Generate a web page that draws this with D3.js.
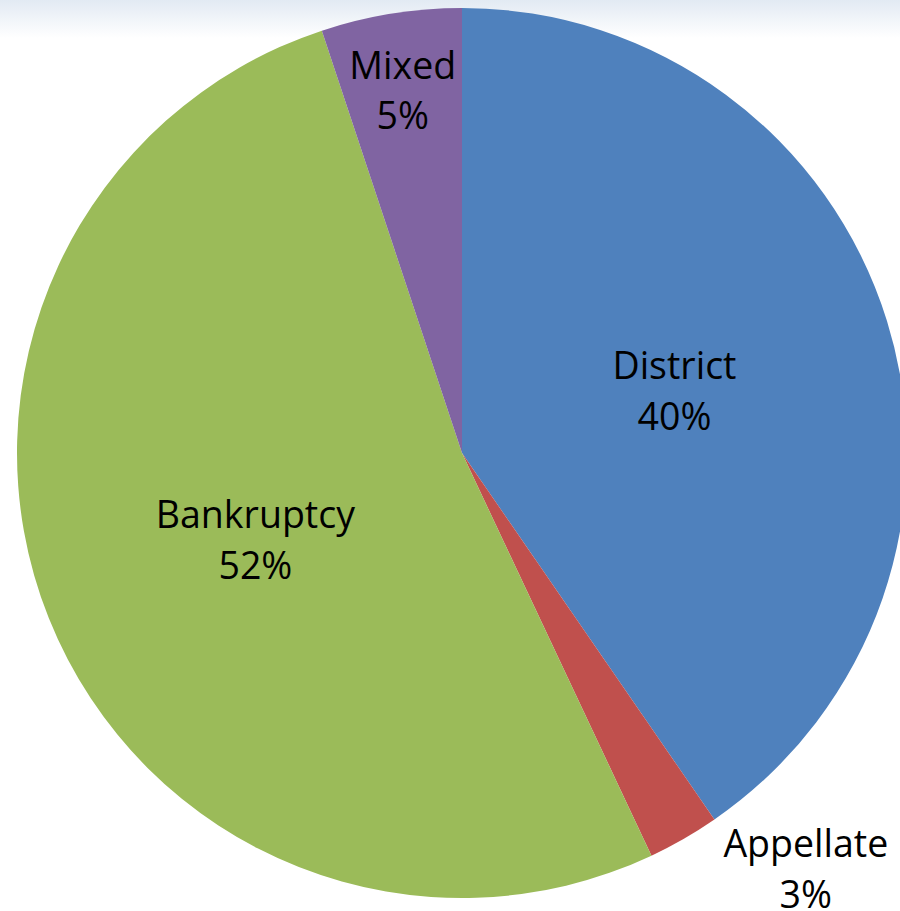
<!DOCTYPE html>
<html>
<head>
<meta charset="utf-8">
<script src="https://cdn.jsdelivr.net/npm/d3@7"></script>
<style>
  body { margin: 0; background: #fff; }
  svg { display: block; }
</style>
</head>
<body>
<div id="chart"></div>
<script>
// slice data, clockwise from 12 o'clock
var categories = ["District", "Appellate", "Bankruptcy", "Mixed"];
var shares = [40.4, 2.6, 51.9, 5.1];
var colors = ["#4f81bd", "#c0504d", "#9bbb59", "#8064a2"];

var width = 900, height = 911;
var cx = 462, cy = 453, radius = 445;

var svg = d3.select("#chart").append("svg")
    .attr("width", width)
    .attr("height", height);

// faint bluish band along the top edge
var grad = svg.append("defs").append("linearGradient")
    .attr("id", "topfade")
    .attr("x1", 0).attr("y1", 0).attr("x2", 0).attr("y2", 1);
grad.append("stop").attr("offset", "0%").attr("stop-color", "#e2eaf3");
grad.append("stop").attr("offset", "100%").attr("stop-color", "#ffffff");
svg.append("rect")
    .attr("width", width).attr("height", 38)
    .attr("fill", "url(#topfade)");

var data = categories.map(function (c, i) {
    return { name: c, value: shares[i], color: colors[i] };
});

var pie = d3.pie().sort(null).value(function (d) { return d.value; });
var arcs = pie(data);
var total = d3.sum(shares);

var arc = d3.arc().innerRadius(0).outerRadius(radius);

var g = svg.append("g").attr("transform", "translate(" + cx + "," + cy + ")");

g.selectAll("path.slice")
    .data(arcs)
    .enter().append("path")
    .attr("class", "slice")
    .attr("d", arc)
    .attr("fill", function (d) { return d.data.color; });

// label placement: radius as fraction of pie radius, plus angle nudge in degrees
// (mimics excel "best fit" which pushes the small slice label outside)
var labelPos = {
    "District":   { r: 0.5,   turn: 0 },
    "Appellate":  { r: 1.205, turn: -10 },
    "Bankruptcy": { r: 0.5,   turn: 0 },
    "Mixed":      { r: 0.835, turn: 0 }
};

var labels = g.selectAll("text.lbl")
    .data(arcs)
    .enter().append("text")
    .attr("class", "lbl")
    .attr("text-anchor", "middle")
    .style("font-family", "'Open Sans', sans-serif")
    .style("font-size", "37.5px")
    .attr("fill", "#000")
    .attr("transform", function (d) {
        var p = labelPos[d.data.name];
        var r = radius * p.r;
        var a = (d.startAngle + d.endAngle) / 2 + p.turn * Math.PI / 180;
        return "translate(" + (Math.sin(a) * r) + "," + (-Math.cos(a) * r) + ")";
    });

labels.append("tspan")
    .attr("x", 0).attr("dy", "-0.2em")
    .text(function (d) { return d.data.name; });
labels.append("tspan")
    .attr("x", 0).attr("dy", "1.35em")
    .text(function (d) { return Math.round(d.data.value / total * 100) + "%"; });
</script>
</body>
</html>
